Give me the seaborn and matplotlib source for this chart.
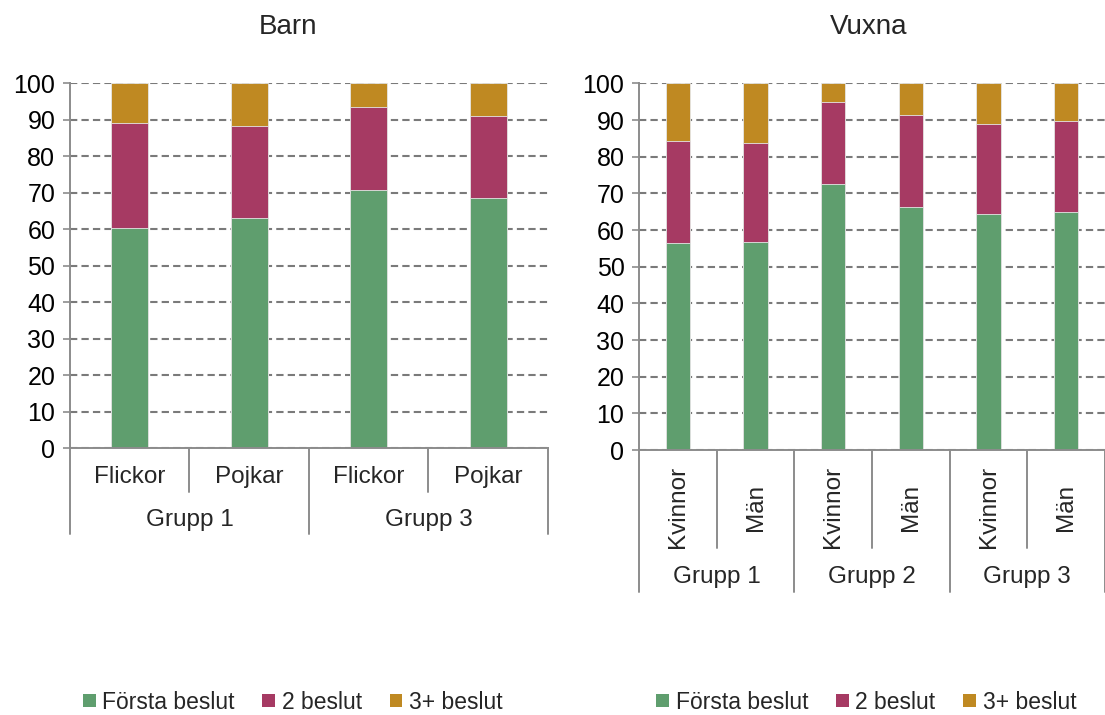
import pandas as pd
import matplotlib
matplotlib.use('Agg')
import matplotlib.pyplot as plt
import matplotlib.transforms as mtrans
from matplotlib.patches import Patch
import seaborn as sns

# ----------------------
# Data (percent shares)
barn_groups = ['Grupp 1', 'Grupp 1', 'Grupp 3', 'Grupp 3']
barn_sub = ['Flickor', 'Pojkar', 'Flickor', 'Pojkar']
barn_forsta = [60.4, 63.0, 70.6, 68.6]
barn_tva = [28.6, 25.1, 22.7, 22.3]
barn_tre = [11.0, 11.9, 6.7, 9.1]

vuxna_groups = ['Grupp 1', 'Grupp 1', 'Grupp 2', 'Grupp 2', 'Grupp 3', 'Grupp 3']
vuxna_sub = ['Kvinnor', 'Män', 'Kvinnor', 'Män', 'Kvinnor', 'Män']
vuxna_forsta = [56.5, 56.7, 72.5, 66.4, 64.3, 64.9]
vuxna_tva = [27.7, 27.0, 22.3, 25.1, 24.5, 24.9]
vuxna_tre = [15.8, 16.3, 5.2, 8.5, 11.2, 10.2]

series = ['Första beslut', '2 beslut', '3+ beslut']
colors = ['#5f9e6e', '#a63a63', '#bf8922']

sns.set_theme(style='white')
plt.rcParams['font.family'] = ['Liberation Sans', 'DejaVu Sans']

fig = plt.figure(figsize=(11.05, 7.15), dpi=100)
ax1 = fig.add_axes([0.0633, 0.3734, 0.4326, 0.5105])
ax2 = fig.add_axes([0.5783, 0.3706, 0.4217, 0.5128])

grey = '#8c8c8c'


def stacked(ax, groups, subs, forsta, tva, tre):
    keys = [f'{g}|{s}|{i}' for i, (g, s) in enumerate(zip(groups, subs))]
    df = pd.DataFrame({'key': keys, 'a': forsta, 'b': tva, 'c': tre})
    df['ab'] = df['a'] + df['b']
    df['abc'] = df['ab'] + df['c']
    for col, color in zip(['abc', 'ab', 'a'], colors[::-1]):
        sns.barplot(data=df, x='key', y=col, order=keys, color=color,
                    width=0.31, edgecolor='#e6e6e6', linewidth=0.6,
                    saturation=1, ax=ax)
    ax.set_xlim(-0.5, len(keys) - 0.5)
    ax.set_ylim(0, 100)
    ax.set_yticks(range(0, 101, 10))
    ax.set_xticks([])
    ax.set_xlabel('')
    ax.set_ylabel('')
    ax.set_axisbelow(True)
    ax.yaxis.grid(True, color='#7a7a7a', linewidth=1.5, linestyle=(0, (3.5, 2)))
    for side in ['top', 'right']:
        ax.spines[side].set_visible(False)
    for side in ['left', 'bottom']:
        ax.spines[side].set_color(grey)
        ax.spines[side].set_linewidth(1.4)
    ax.tick_params(axis='y', which='both', left=True, direction='out', length=5,
                   width=1.2, color=grey, pad=5.5, labelsize=18, labelcolor='black')


def px(ax, dy):
    # convert a pixel offset below the axis into axes fraction
    h = ax.get_position().height * fig.get_figheight() * fig.dpi
    return -dy / h


def category_labels(ax, groups, subs, sub_depth, group_depth, sub_y, group_y, rotate):
    tr = mtrans.blended_transform_factory(ax.transData, ax.transAxes)
    n = len(subs)
    for i, s in enumerate(subs):
        ax.text(i, px(ax, sub_y), s, transform=tr, ha='center', va='center',
                fontsize=17.5, rotation=90 if rotate else 0)
    # separators
    bounds = [i - 0.5 for i in range(n + 1)]
    for b in bounds:
        if b in (-0.5, n - 0.5):
            full = True
        else:
            full = groups[int(b - 0.5)] != groups[int(b + 0.5)]
        depth = group_depth if full else sub_depth
        ax.plot([b, b], [0, px(ax, depth)], transform=tr, color=grey,
                linewidth=1.4, clip_on=False)
    # group labels
    uniq = []
    for g in groups:
        if g not in uniq:
            uniq.append(g)
    for g in uniq:
        idx = [i for i, x in enumerate(groups) if x == g]
        ax.text(sum(idx) / len(idx), px(ax, group_y), g, transform=tr,
                ha='center', va='center', fontsize=17.5)


stacked(ax1, barn_groups, barn_sub, barn_forsta, barn_tva, barn_tre)
stacked(ax2, vuxna_groups, vuxna_sub, vuxna_forsta, vuxna_tva, vuxna_tre)

category_labels(ax1, barn_groups, barn_sub, 44, 86, 29, 72, False)
category_labels(ax2, vuxna_groups, vuxna_sub, 98, 142, 57, 127, True)

fig.text(0.261, 0.962, 'Barn', ha='center', va='center', fontsize=20)
fig.text(0.786, 0.962, 'Vuxna', ha='center', va='center', fontsize=20)

handles = [Patch(facecolor=c, edgecolor='none', label=s) for s, c in zip(series, colors)]
for cx in [0.265, 0.784]:
    fig.legend(handles=handles, loc='center', bbox_to_anchor=(cx, 0.018),
               ncol=3, frameon=False, fontsize=16.5, handlelength=0.55,
               handleheight=0.55, handletextpad=0.3, columnspacing=1.2,
               borderpad=0, borderaxespad=0)

fig.savefig('out.png', dpi=100)
